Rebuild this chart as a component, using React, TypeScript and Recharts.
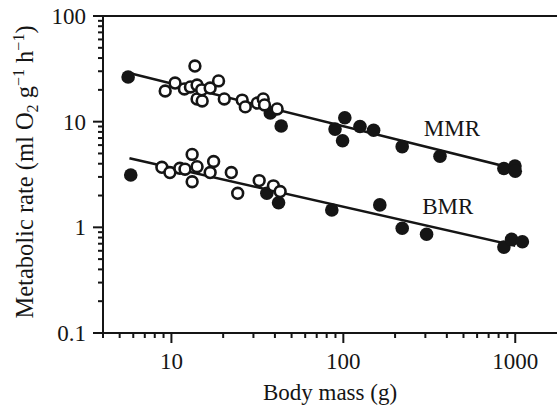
import React from 'react';
import { ScatterChart, Scatter, XAxis, YAxis, ReferenceLine, ReferenceDot } from 'recharts';

// body mass (g) / metabolic rate (ml O2 g-1 h-1)
const mmrFilledMass = [5.6, 37.6, 43.5, 89.5, 99, 102, 125, 150, 220, 365, 859, 996, 1000];
const mmrFilledRate = [26.5, 12.1, 9.1, 8.5, 6.6, 10.9, 9.0, 8.3, 5.8, 4.7, 3.6, 3.8, 3.4];
const mmrOpenMass = [9.2, 10.5, 11.9, 12.9, 13.7, 14.1, 14.1, 15.1, 15, 16.8, 18.8, 20.3, 25.8, 26.9, 31.6, 34.2, 34.8, 41.2];
const mmrOpenRate = [19.5, 23.2, 20.4, 21.3, 33.6, 22.2, 16.4, 15.7, 20, 20.8, 24.3, 16.4, 16.0, 13.8, 15.0, 16.4, 14.4, 13.2];

const bmrFilledMass = [5.8, 35.9, 42, 85.7, 163, 220, 305, 859, 952, 1100];
const bmrFilledRate = [3.13, 2.1, 1.71, 1.46, 1.63, 0.98, 0.86, 0.65, 0.77, 0.73];
const bmrOpenMass = [8.8, 9.8, 11.2, 12, 13.2, 13.2, 14.1, 16.8, 17.6, 22.3, 24.3, 32.4, 39.2, 42.9];
const bmrOpenRate = [3.7, 3.3, 3.62, 3.55, 4.9, 2.7, 3.75, 3.3, 4.2, 3.3, 2.1, 2.77, 2.47, 2.18];

// fitted lines (end points)
const mmrLineMass = [5.6, 1000];
const mmrLineRate = [29, 3.57];
const bmrLineMass = [5.7, 1000];
const bmrLineRate = [4.5, 0.67];

const xTicks = [4, 5, 6, 7, 8, 9, 10, 20, 30, 40, 50, 60, 70, 80, 90, 100, 200, 300, 400, 500, 600, 700, 800, 900, 1000, 2000];
const yTicks = [0.1, 0.2, 0.3, 0.4, 0.5, 0.6, 0.7, 0.8, 0.9, 1, 2, 3, 4, 5, 6, 7, 8, 9, 10, 20, 30, 40, 50, 60, 70, 80, 90, 100];

const toPoints = (xs: number[], ys: number[]) => xs.map((x, i) => ({ x, y: ys[i] }));

const FONT = "'Liberation Serif', 'Times New Roman', serif";
const INK = '#151515';

const isMajor = (v: number) => {
  const l = Math.log10(v);
  return Math.abs(l - Math.round(l)) < 1e-9;
};

const XTick = (props: any) => {
  const { x, y, payload } = props;
  const major = isMajor(payload.value);
  return (
    <g>
      <line x1={x} x2={x} y1={y} y2={y + (major ? 10 : 5)} stroke={INK} strokeWidth={2} />
      {major && (
        <text x={x} y={y + 36} textAnchor="middle" fontFamily={FONT} fontSize={23} fill={INK}>
          {payload.value}
        </text>
      )}
    </g>
  );
};

const YTick = (props: any) => {
  const { x, y, payload } = props;
  const major = isMajor(payload.value);
  return (
    <g>
      <line x1={x - (major ? 10 : 5)} x2={x} y1={y} y2={y} stroke={INK} strokeWidth={2} />
      {major && (
        <text x={x - 17} y={y} dy="0.35em" textAnchor="end" fontFamily={FONT} fontSize={23} fill={INK}>
          {payload.value}
        </text>
      )}
    </g>
  );
};

const YLabel = () => (
  <text
    transform="translate(33, 172) rotate(-90)"
    textAnchor="middle"
    fontFamily={FONT}
    fontSize={24.5}
    fill={INK}
  >
    Metabolic rate (ml O
    <tspan fontSize={16} dy={5}>2</tspan>
    <tspan dy={-5}> g</tspan>
    <tspan fontSize={16} dy={-9}>−1</tspan>
    <tspan dy={9}> h</tspan>
    <tspan fontSize={16} dy={-9}>−1</tspan>
    <tspan dy={9}>)</tspan>
  </text>
);

const XLabel = (props: any) => {
  const vb = props.viewBox;
  return (
    <text x={vb.x + vb.width / 2 - 5} y={400} textAnchor="middle" fontFamily={FONT} fontSize={23} fill={INK}>
      Body mass (g)
    </text>
  );
};

const Filled = (p: any) => <circle cx={p.cx} cy={p.cy} r={6.8} fill={INK} />;
const Open = (p: any) => <circle cx={p.cx} cy={p.cy} r={5.4} fill="#fff" stroke={INK} strokeWidth={2.6} />;
const NoDot = () => <g />;

export default function App() {
  return (
    <div style={{ position: 'fixed', top: 0, left: 0, width: 557, height: 408, overflow: 'hidden', background: '#fff' }}>
      <ScatterChart width={580} height={408} margin={{ top: 16, right: 13, bottom: 0, left: 0 }}>
        <XAxis
          type="number"
          dataKey="x"
          scale="log"
          domain={[4, 2000]}
          allowDataOverflow
          ticks={xTicks}
          interval={0}
          tickSize={0}
          tickMargin={0}
          tick={<XTick />}
          tickLine={false}
          axisLine={{ stroke: INK, strokeWidth: 2 }}
          height={75}
          label={(p: any) => <XLabel {...p} />}
        />
        <YAxis
          type="number"
          dataKey="y"
          scale="log"
          domain={[0.1, 100]}
          allowDataOverflow
          ticks={yTicks}
          interval={0}
          tickSize={0}
          tickMargin={0}
          tick={<YTick />}
          tickLine={false}
          axisLine={{ stroke: INK, strokeWidth: 2 }}
          width={103}
          label={() => <YLabel />}
        />
        <ReferenceLine y={100} stroke={INK} strokeWidth={2} />
        <Scatter data={toPoints(mmrLineMass, mmrLineRate)} line={{ stroke: INK, strokeWidth: 2.5 }} shape={<NoDot />} isAnimationActive={false} />
        <Scatter data={toPoints(bmrLineMass, bmrLineRate)} line={{ stroke: INK, strokeWidth: 2.5 }} shape={<NoDot />} isAnimationActive={false} />
        <Scatter data={toPoints(mmrFilledMass, mmrFilledRate)} shape={<Filled />} isAnimationActive={false} />
        <Scatter data={toPoints(bmrFilledMass, bmrFilledRate)} shape={<Filled />} isAnimationActive={false} />
        <Scatter data={toPoints(mmrOpenMass, mmrOpenRate)} shape={<Open />} isAnimationActive={false} />
        <Scatter data={toPoints(bmrOpenMass, bmrOpenRate)} shape={<Open />} isAnimationActive={false} />
        <ReferenceDot x={428} y={8.7} r={0} fill="none" stroke="none"
          label={{ value: 'MMR', position: 'center', fontFamily: FONT, fontSize: 23, fill: INK }} />
        <ReferenceDot x={405} y={1.59} r={0} fill="none" stroke="none"
          label={{ value: 'BMR', position: 'center', fontFamily: FONT, fontSize: 23, fill: INK }} />
      </ScatterChart>
    </div>
  );
}
